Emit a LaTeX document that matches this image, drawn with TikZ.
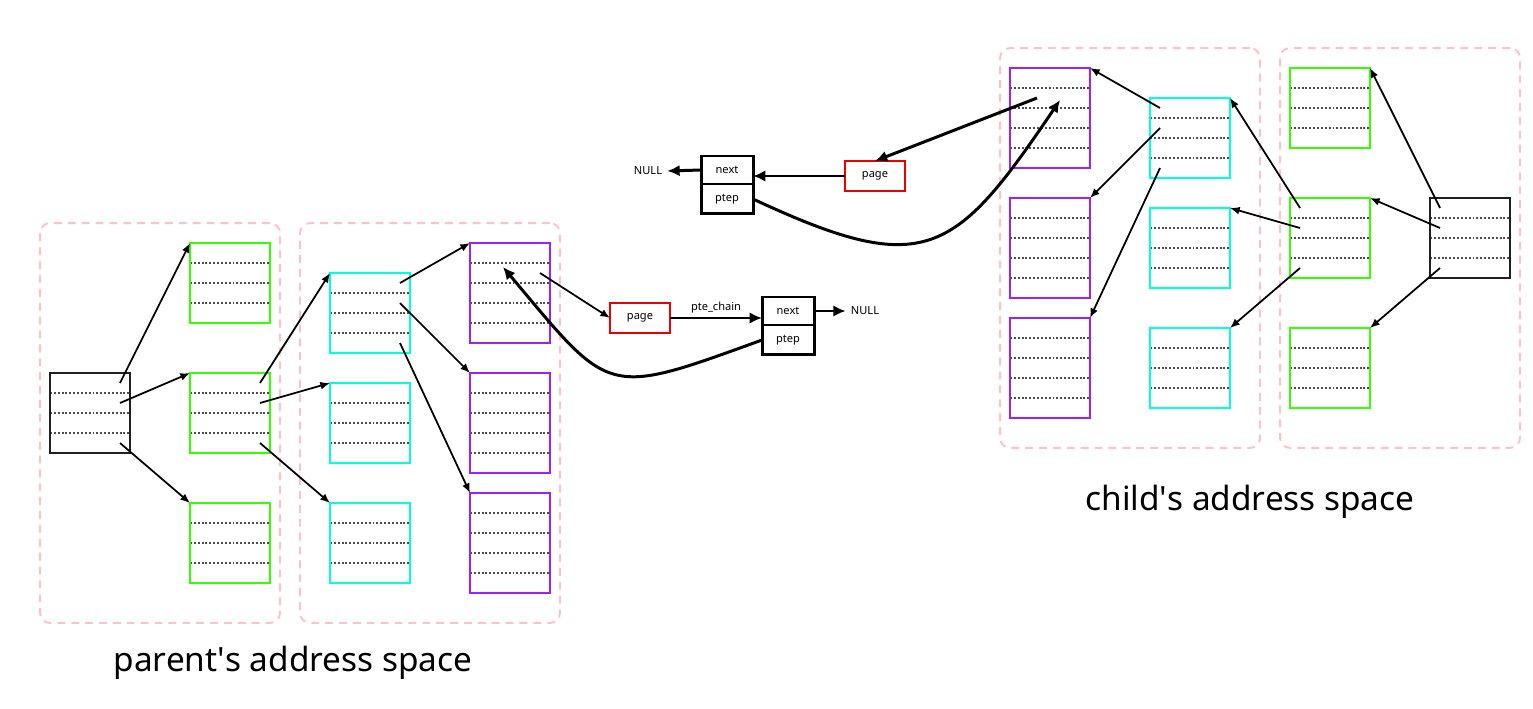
\documentclass[tikz,border=0pt]{standalone}
\usepackage{fontspec}
\setmainfont{Noto Sans}
\usetikzlibrary{arrows.meta,positioning,calc}
\definecolor{regpink}{RGB}{255,192,203}
\definecolor{pmdgreen}{RGB}{51,255,0}
\definecolor{ptecyan}{RGB}{0,255,221}
\definecolor{pgpurple}{RGB}{160,32,240}
\definecolor{pagered}{RGB}{235,0,0}

\begin{document}
\begin{tikzpicture}[x=0.02cm, y=0.02cm, >=Latex,
  every node/.style={font=\fontsize{6.3}{7.5}\selectfont, inner sep=0pt, outer sep=0pt},
  region/.style={draw=regpink, line width=1.1pt, dash pattern=on 4.5pt off 3.4pt, rounded corners=0.2cm, minimum height=8cm, minimum width=#1},
  rowdots/.style={black!70, line width=1.2pt, dash pattern=on 1.1pt off 1.1pt},
  tbl/.style 2 args={draw=#1, line width=1.1pt, minimum width=1.6cm, minimum height=(#2+1)*0.4cm,
    path picture={\foreach \k in {1,...,#2} \draw[rowdots] ([yshift=-0.4cm*\k]path picture bounding box.north west) -- ([yshift=-0.4cm*\k]path picture bounding box.north east);}},
  ptr/.style={->, line width=1pt, >={Latex[length=5.5pt,width=4.5pt]}},
  bigptr/.style={->, line width=1.7pt, >={Latex[length=7pt,width=6.5pt]}},
  field/.style={draw, line width=1.7pt, minimum width=1.04cm},
  pagebox/.style={draw=pagered, line width=1.1pt, minimum width=1.2cm, minimum height=0.6cm},
  nullbox/.style={inner xsep=3pt},
  spacelbl/.style={font=\fontsize{19}{23}\selectfont}]
\useasboundingbox (0,0) rectangle (1533,-709);

\node[region=4.8cm] (regL1) at (160,-423) {};
\node[region=5.2cm] (regL2) at (430,-423) {};
\node[region=5.2cm] (regR1) at (1130,-248) {};
\node[region=4.8cm] (regR2) at (1400,-248) {};

\node[tbl={black!88}{3}] (pgdL) at (90,-413) {};
\node[tbl={pmdgreen}{3}] (pmdL1) at (230,-283) {};
\node[tbl={pmdgreen}{3}] (pmdL2) at (230,-413) {};
\node[tbl={pmdgreen}{3}] (pmdL3) at (230,-543) {};
\node[tbl={ptecyan}{3}] (pteL1) at (370,-313) {};
\node[tbl={ptecyan}{3}] (pteL2) at (370,-423) {};
\node[tbl={ptecyan}{3}] (pteL3) at (370,-543) {};
\node[tbl={pgpurple}{4}] (pgL1) at (510,-293) {};
\node[tbl={pgpurple}{4}] (pgL2) at (510,-423) {};
\node[tbl={pgpurple}{4}] (pgL3) at (510,-543) {};

\node[tbl={black!88}{3}] (pgdR) at (1470,-238) {};
\node[tbl={pmdgreen}{3}] (pmdR1) at (1330,-108) {};
\node[tbl={pmdgreen}{3}] (pmdR2) at (1330,-238) {};
\node[tbl={pmdgreen}{3}] (pmdR3) at (1330,-368) {};
\node[tbl={ptecyan}{3}] (pteR1) at (1190,-138) {};
\node[tbl={ptecyan}{3}] (pteR2) at (1190,-248) {};
\node[tbl={ptecyan}{3}] (pteR3) at (1190,-368) {};
\node[tbl={pgpurple}{4}] (pgR1) at (1050,-118) {};
\node[tbl={pgpurple}{4}] (pgR2) at (1050,-248) {};
\node[tbl={pgpurple}{4}] (pgR3) at (1050,-368) {};

\node[pagebox] (pageL) at (640,-318) {page};
\node[field, minimum height=0.56cm] (nextL) at (788,-311) {next};
\node[field, minimum height=0.6cm, below=0pt of nextL] (ptepL) {ptep};
\node[nullbox] (nullL) at (865,-311) {NULL};

\node[pagebox] (pageR) at (875,-176) {page};
\node[field, minimum height=0.56cm] (nextR) at (727,-170) {next};
\node[field, minimum height=0.6cm, below=0pt of nextR] (ptepR) {ptep};
\node[nullbox] (nullR) at (648,-171) {NULL};

\node[spacelbl] (parentlbl) at (293,-663) {parent\textquotesingle s address space};
\node[spacelbl] (childlbl) at (1250,-502) {child\textquotesingle s address space};

\foreach \i/\dy in {1/10,2/30,3/70} {
  \draw[ptr] ([shift={(-10,-\dy)}]pgdL.north east) -- (pmdL\i.north west);
  \draw[ptr] ([shift={(-10,-\dy)}]pmdL2.north east) -- (pteL\i.north west);
  \draw[ptr] ([shift={(-10,-\dy)}]pteL1.north east) -- (pgL\i.north west);
  \draw[ptr] ([shift={(10,-\dy)}]pgdR.north west) -- (pmdR\i.north east);
  \draw[ptr] ([shift={(10,-\dy)}]pmdR2.north west) -- (pteR\i.north east);
  \draw[ptr] ([shift={(10,-\dy)}]pteR1.north west) -- (pgR\i.north east);
}

\draw[ptr] ([shift={(-10,-30)}]pgL1.north east) -- (pageL.west);
\draw[bigptr] (pageL.east) -- node[above=3pt]{pte\_chain} (pageL.east -| nextL.west);
\draw[bigptr] (nextL.east) -- (nullL.west);
\draw[bigptr] (ptepL.west) to[out=200, in=-50, looseness=1.6] ([shift={(33,-24)}]pgL1.north west);

\draw[bigptr] ([shift={(27,-30)}]pgR1.north west) -- (pageR.north);
\draw[bigptr] (pageR.west) -- (pageR.west -| nextR.east);
\draw[bigptr] (nextR.west) -- (nullR.east);
\draw[bigptr] (ptepR.east) to[out=-25, in=-124, looseness=1.5] ([shift={(50,-32)}]pgR1.north west);
\end{tikzpicture}
\end{document}
